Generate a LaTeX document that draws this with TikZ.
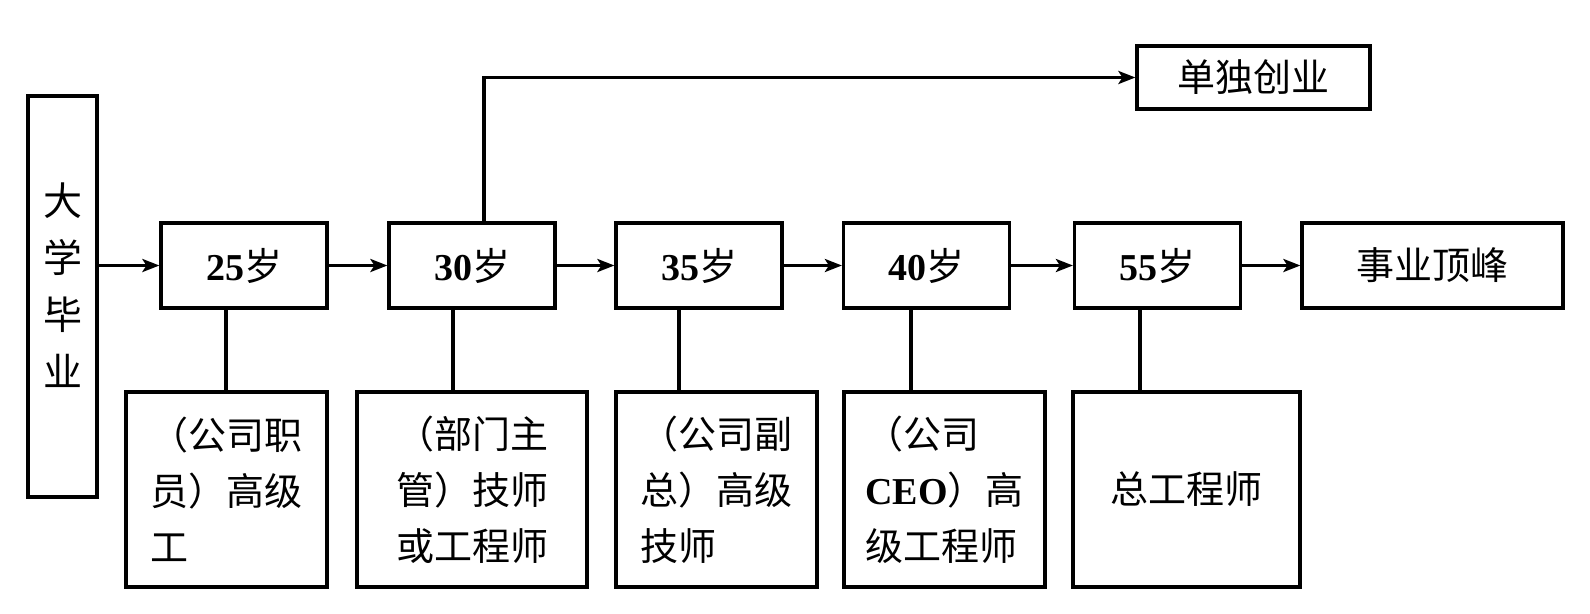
\documentclass[tikz,border=0pt]{standalone}
\usepackage{fontspec}
\setmainfont{Liberation Serif}
\newfontfamily\cjk{Noto Sans CJK SC}
\usetikzlibrary{arrows.meta}
\newcommand\lat[1]{{\rmfamily\bfseries #1}}
\begin{document}
\begin{tikzpicture}[x=1pt,y=-1pt,
  box/.style={draw, line width=3.2pt, inner sep=0pt, align=center, font=\cjk\fontsize{38}{56}\selectfont},
  agebox/.style={box, minimum width=166pt, minimum height=85pt},
  lowbox/.style={box, minimum height=195pt, align=left},
  txt/.style={inner sep=0pt, align=center, font=\cjk\fontsize{39}{57}\selectfont},
  arr/.style={line width=3.2pt, -{Stealth[length=17pt,width=13pt,inset=4pt]}},
  ln/.style={line width=3.2pt}]
\useasboundingbox (0,0) rectangle (1590,613);
% left column
\node[box, minimum width=69pt, minimum height=401pt] (grad) at (62.5,296.5) {};
\node[txt] (gradtext) at ([yshift=11pt]grad.center) {大\\学\\毕\\业};
% age boxes
\node[agebox] (a25) at (244,265.5) {\lat{25}岁};
\node[agebox] (a30) at (472,265.5) {\lat{30}岁};
\node[agebox] (a35) at (699,265.5) {\lat{35}岁};
\node[agebox] (a40) at (926.5,265.5) {\lat{40}岁};
\node[agebox] (a55) at (1157.5,265.5) {\lat{55}岁};
\node[box, minimum width=261pt, minimum height=85pt] (peak) at (1432.5,265.5) {事业顶峰};
\node[box, minimum width=233pt, minimum height=63pt] (solo) at (1253.5,77.5) {单独创业};
% lower boxes
\node[lowbox, minimum width=201pt] (b1) at (226.5,489.5) {（公司职\\员）高级\\工};
\node[lowbox, minimum width=230pt] (b2) at (472,489.5) {（部门主\\管）技师\\或工程师};
\node[lowbox, minimum width=201pt] (b3) at (716.5,489.5) {（公司副\\总）高级\\技师};
\node[lowbox, minimum width=201pt] (b4) at (944.5,489.5) {（公司\\\lat{CEO}）高\\级工程师};
\node[lowbox, minimum width=227pt] (b5) at (1186.5,489.5) {总工程师};
% horizontal arrows
\draw[arr] (grad.east |- a25.west) -- (a25.west);
\draw[arr] (a25.east) -- (a30.west);
\draw[arr] (a30.east) -- (a35.west);
\draw[arr] (a35.east) -- (a40.west);
\draw[arr] (a40.east) -- (a55.west);
\draw[arr] (a55.east) -- (peak.west);
% branch to solo
\coordinate (up) at (484,0);
\draw[arr] (a30.north -| up) |- (solo.west);
% vertical links
\coordinate (d1) at (226,0);
\coordinate (d2) at (453,0);
\coordinate (d3) at (679,0);
\coordinate (d4) at (911,0);
\coordinate (d5) at (1140,0);
\draw[ln] (a25.south -| d1) -- (b1.north -| d1);
\draw[ln] (a30.south -| d2) -- (b2.north -| d2);
\draw[ln] (a35.south -| d3) -- (b3.north -| d3);
\draw[ln] (a40.south -| d4) -- (b4.north -| d4);
\draw[ln] (a55.south -| d5) -- (b5.north -| d5);
\end{tikzpicture}
\end{document}
